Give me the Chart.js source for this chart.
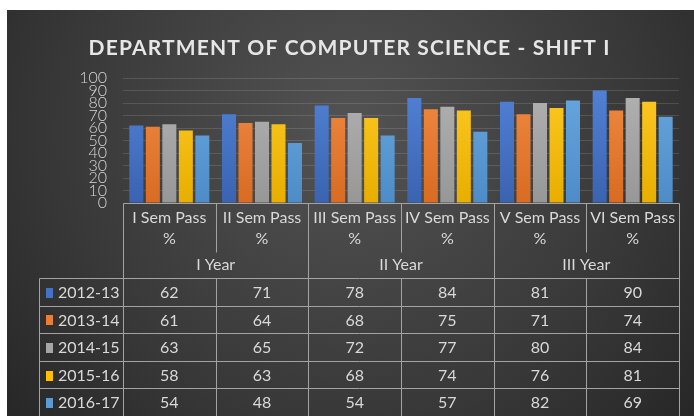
<!DOCTYPE html>
<html>
<head>
<meta charset="utf-8">
<script src="https://cdn.jsdelivr.net/npm/chart.js@4.4.1/dist/chart.umd.min.js"></script>
<style>
html, body { margin: 0; padding: 0; background: #fff; }
#wrap { width: 694px; height: 416px; position: relative; }
</style>
</head>
<body>
<div id="wrap"><canvas id="myChart"></canvas></div>
<script>
// data
var chartTitle = 'DEPARTMENT OF COMPUTER SCIENCE - SHIFT I';
var semesters = [['I Sem Pass', '%'], ['II Sem Pass', '%'], ['III Sem Pass', '%'],
                 ['IV Sem Pass', '%'], ['V Sem Pass', '%'], ['VI Sem Pass', '%']];
var years = ['I Year', 'II Year', 'III Year'];
var batches = ['2012-13', '2013-14', '2014-15', '2015-16', '2016-17'];
var pass2012 = [62, 71, 78, 84, 81, 90];
var pass2013 = [61, 64, 68, 75, 71, 74];
var pass2014 = [63, 65, 72, 77, 80, 84];
var pass2015 = [58, 63, 68, 74, 76, 81];
var pass2016 = [54, 48, 54, 57, 82, 69];
var allPass = [pass2012, pass2013, pass2014, pass2015, pass2016];

// colours (top / base of each bar)
var baseColors = ['#4472C4', '#ED7D31', '#A5A5A5', '#FFC000', '#5B9BD5'];
var topColors = ['#5384d8', '#f28c45', '#b3b3b3', '#ffcb26', '#6aa8e0'];
var bottomColors = ['#3a63b0', '#d96b22', '#979797', '#e8ae00', '#4d8cc7'];

Chart.defaults.font.family = 'Lato';
Chart.defaults.color = '#d6d6d6';

function barFill(i) {
  return function(c) {
    var area = c.chart.chartArea;
    if (!area) return baseColors[i];
    var g = c.chart.ctx.createLinearGradient(0, area.top, 0, area.bottom);
    g.addColorStop(0, topColors[i]);
    g.addColorStop(1, bottomColors[i]);
    return g;
  };
}

var datasets = batches.map(function(name, i) {
  return {
    label: name,
    data: allPass[i],
    backgroundColor: barFill(i),
    borderWidth: 0,
    categoryPercentage: 0.89,
    barPercentage: 0.85
  };
});

var lineColor = '#a3a3a3';
var textColor = '#d9d9d9';

var sheetPlugin = {
  id: 'sheet',
  beforeDraw: function(chart) {
    var ctx = chart.ctx, W = chart.width, H = chart.height;
    ctx.save();
    ctx.fillStyle = '#ffffff';
    ctx.fillRect(0, 0, W, H);
    var g = ctx.createRadialGradient(350, 130, 10, 350, 130, 520);
    g.addColorStop(0, '#525252');
    g.addColorStop(0.55, '#383838');
    g.addColorStop(1, '#1f1f1f');
    ctx.fillStyle = g;
    ctx.fillRect(7, 10, W - 7, H - 10);

    // title, spaced out like the original
    ctx.font = 'bold 21px Lato';
    ctx.fillStyle = '#e6e6e6';
    ctx.textAlign = 'center';
    ctx.textBaseline = 'alphabetic';
    var w0 = ctx.measureText(chartTitle).width;
    var sp = Math.max(0, (522 - w0) / chartTitle.length);
    ctx.letterSpacing = sp.toFixed(2) + 'px';
    ctx.fillText(chartTitle, 349 + sp / 2, 55);
    ctx.restore();
  },
  afterDraw: function(chart) {
    var ctx = chart.ctx, area = chart.chartArea, xs = chart.scales.x;
    var H = chart.height;
    var n = semesters.length;
    var cw = (area.right - area.left) / n;
    var edge = function(k) { return xs.getPixelForValue(k) - cw / 2; };
    var top = area.bottom;
    var rowTop = top + 75;
    var rowH = (H - rowTop) / batches.length;
    var legLeft = 39;

    ctx.save();
    ctx.strokeStyle = lineColor;
    ctx.lineWidth = 1;
    function line(x1, y1, x2, y2) {
      ctx.beginPath();
      ctx.moveTo(Math.round(x1) + 0.5, Math.round(y1) + 0.5);
      ctx.lineTo(Math.round(x2) + 0.5, Math.round(y2) + 0.5);
      ctx.stroke();
    }
    line(edge(0), top, edge(n), top);
    line(edge(0), top, edge(0), H);
    line(edge(n), top, edge(n), H);
    for (var k = 1; k < n; k++) {
      if (k % 2 === 0) {
        line(edge(k), top, edge(k), H);
      } else {
        line(edge(k), top, edge(k), top + 49);
        line(edge(k), rowTop, edge(k), H);
      }
    }
    line(legLeft, rowTop, edge(n), rowTop);
    line(legLeft, rowTop, legLeft, H);
    for (var r = 1; r < batches.length; r++) {
      line(legLeft, rowTop + r * rowH, edge(n), rowTop + r * rowH);
    }

    ctx.font = '16px Lato';
    ctx.fillStyle = textColor;
    ctx.textAlign = 'center';
    ctx.textBaseline = 'middle';
    semesters.forEach(function(lbl, i) {
      var cx = xs.getPixelForValue(i);
      ctx.fillText(lbl[0], cx, top + 15);
      ctx.fillText(lbl[1], cx, top + 36);
    });
    years.forEach(function(y, g) {
      ctx.fillText(y, (edge(2 * g) + edge(2 * g + 2)) / 2, top + 62);
    });
    batches.forEach(function(name, r) {
      var cy = rowTop + (r + 0.5) * rowH;
      allPass[r].forEach(function(v, i) {
        ctx.fillText(String(v), xs.getPixelForValue(i), cy + 1);
      });
      ctx.fillStyle = baseColors[r];
      ctx.fillRect(46, Math.round(cy - 4), 7, 10);
      ctx.fillStyle = textColor;
      ctx.textAlign = 'left';
      ctx.fillText(name, 58, cy + 1);
      ctx.textAlign = 'center';
    });
    ctx.restore();
  }
};

var chart = new Chart(document.getElementById('myChart'), {
  type: 'bar',
  data: { labels: semesters, datasets: datasets },
  options: {
    responsive: true,
    maintainAspectRatio: false,
    animation: false,
    layout: { padding: { top: 78, left: 0, right: 15, bottom: 213 } },
    plugins: { legend: { display: false }, title: { display: false }, tooltip: { enabled: false } },
    scales: {
      x: { display: false },
      y: {
        min: 0,
        max: 100,
        afterFit: function(scale) { scale.width = 123; },
        ticks: { stepSize: 10, autoSkip: false, padding: 16, color: '#d6d6d6', font: { size: 16, weight: '300' } },
        grid: { color: 'rgba(255,255,255,0.13)', drawTicks: false },
        border: { display: false }
      }
    }
  },
  plugins: [sheetPlugin]
});
</script>
</body>
</html>
